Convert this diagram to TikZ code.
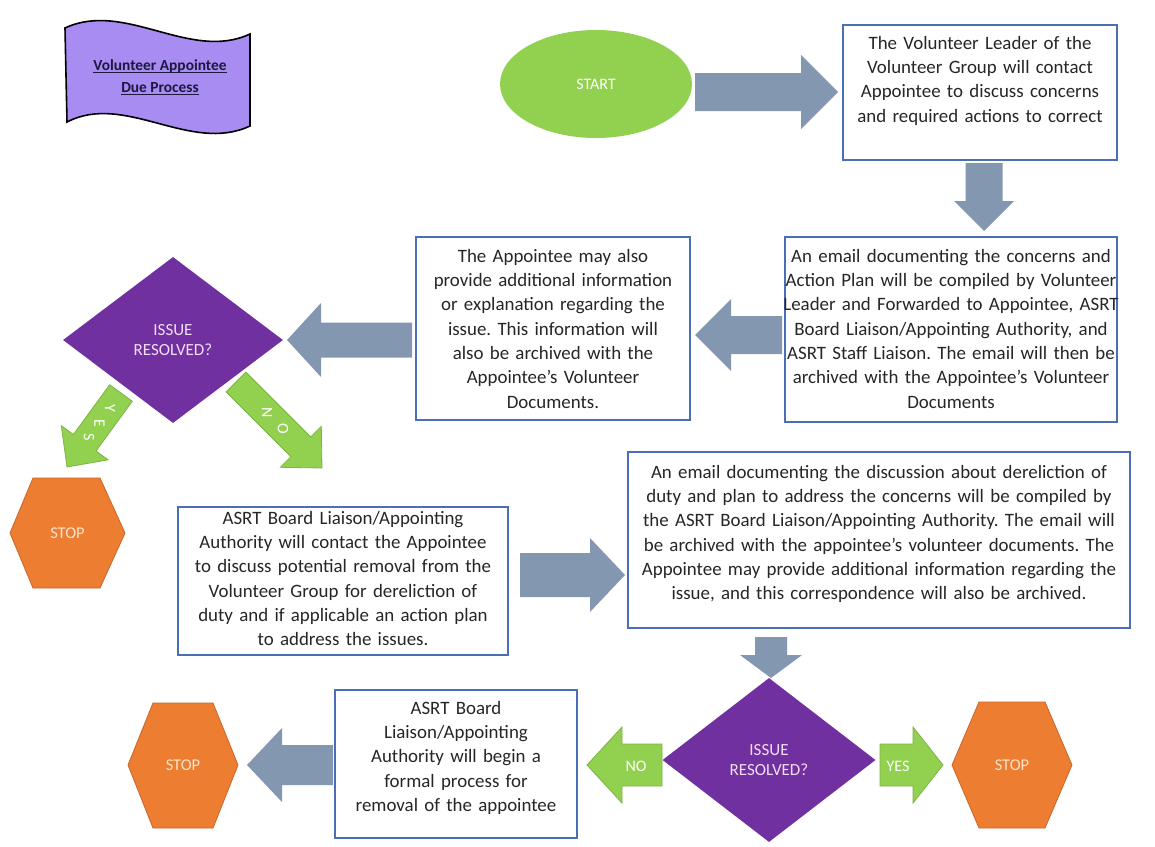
\documentclass[tikz,border=0pt]{standalone}
\usepackage{fontspec}
\setmainfont{Carlito}
\usetikzlibrary{shapes.geometric}
\definecolor{boxblue}{HTML}{4A6FB5}
\definecolor{arrblue}{HTML}{8497B0}
\definecolor{lgreen}{HTML}{92D050}
\definecolor{gborder}{HTML}{7DB446}
\definecolor{dpurple}{HTML}{7030A0}
\definecolor{orng}{HTML}{ED7D31}
\definecolor{orngb}{HTML}{C9652A}
\definecolor{lav}{HTML}{A88CF2}
\definecolor{pinkt}{HTML}{F2DDF4}
\definecolor{txtgray}{HTML}{262626}
\definecolor{stopt}{HTML}{FCE4CC}
\definecolor{navy}{HTML}{1C1840}
\frenchspacing
\newcommand\myul[1]{\setbox0\hbox{#1}\rlap{\rule[-2.4pt]{\wd0}{1.1pt}}\box0}
\newcommand\blockarrow[6]{%
  \pgfpointdiff{\pgfpointanchor{#1}{center}}{\pgfpointanchor{#2}{center}}%
  \pgfgetlastxy{\bdx}{\bdy}%
  \pgfmathsetmacro\bang{atan2(\bdy,\bdx)}%
  \pgfmathsetmacro\blen{veclen(\bdx,\bdy)}%
  \pgfmathsetmacro\bbase{\blen-#5}%
  \begin{scope}[shift={(#1)},rotate=\bang]
    \path[#6] (0,#3) -- (\bbase,#3) -- (\bbase,#4) -- (\blen,0) -- (\bbase,-#4) -- (\bbase,-#3) -- (0,-#3) -- cycle;
  \end{scope}}
\begin{document}
\begin{tikzpicture}[x=1pt,y=-1pt,
  boxst/.style={draw=boxblue, line width=2.6pt, fill=white, rectangle, inner sep=0pt},
  txt/.style={font=\fontsize{18.9}{24.3}\selectfont, text=txtgray, align=center, inner sep=0pt, anchor=north},
  arrst/.style={fill=arrblue, draw=none},
  garrst/.style={fill=lgreen, draw=gborder, line width=0.8pt},
  hexst/.style={fill=orng, draw=orngb, line width=0.8pt},
  stoptxt/.style={font=\fontsize{16.5}{18}\selectfont, text=stopt, inner sep=0pt},
  dia/.style={diamond, fill=dpurple, inner sep=0pt, font=\fontsize{17}{20}\selectfont, text=pinkt, align=center},
  gtxt/.style={font=\fontsize{16}{18}\selectfont, text=white, inner sep=0pt}
]
\useasboundingbox (0,0) rectangle (1155,846);
\fill[white] (0,0) rectangle (1155,846);

% banner
\filldraw[fill=lav, draw=black, line width=1.6pt]
  (65,28) .. controls (125,0) and (190,62) .. (250,34) -- (250,126)
  .. controls (190,154) and (125,92) .. (67,122) -- cycle;
\node[font=\bfseries\fontsize{15.4}{22}\selectfont, text=navy, align=center, inner sep=0pt] (title) at (160,77)
  {\myul{Volunteer Appointee}\\\myul{Due Process}};

% start
\node[ellipse, fill=lgreen, minimum width=192pt, minimum height=108pt, inner sep=0pt,
  font=\fontsize{16}{18}\selectfont, text=white] (start) at (596,84) {START};

% boxes
\node[boxst, minimum width=274pt, minimum height=135pt] (b1) at (980,92.5) {};
\node[txt, text width=320pt] (b1t) at (980,36) {The Volunteer Leader of the\\Volunteer Group will contact\\Appointee to discuss concerns\\and required actions to correct};

\node[boxst, minimum width=332pt, minimum height=185pt] (b2) at (951,329.5) {};
\node[txt, text width=380pt] (b2t) at (951,249) {An email documenting the concerns and\\Action Plan will be compiled by Volunteer\\Leader and Forwarded to Appointee, ASRT\\Board Liaison/Appointing Authority, and\\ASRT Staff Liaison. The email will then be\\archived with the Appointee’s Volunteer\\Documents};

\node[boxst, minimum width=274pt, minimum height=183pt] (b3) at (553,328.5) {};
\node[txt, text width=320pt] (b3t) at (553,249) {The Appointee may also\\provide additional information\\or explanation regarding the\\issue. This information will\\also be archived with the\\Appointee’s Volunteer\\Documents.};

\node[boxst, minimum width=330pt, minimum height=148pt] (b5) at (343,581) {};
\node[txt, text width=380pt] (b5t) at (343,511) {ASRT Board Liaison/Appointing\\Authority will contact the Appointee\\to discuss potential removal from the\\Volunteer Group for dereliction of\\duty and if applicable an action plan\\to address the issues.};

\node[boxst, minimum width=502pt, minimum height=176pt] (b6) at (879,540) {};
\node[txt, text width=560pt] (b6t) at (879,465) {An email documenting the discussion about dereliction of\\duty and plan to address the concerns will be compiled by\\the ASRT Board Liaison/Appointing Authority. The email will\\be archived with the appointee’s volunteer documents. The\\Appointee may provide additional information regarding the\\issue, and this correspondence will also be archived.};

\node[boxst, minimum width=242pt, minimum height=148pt] (b7) at (456,764) {};
\node[txt, text width=290pt] (b7t) at (456,701) {ASRT Board\\Liaison/Appointing\\Authority will begin a\\formal process for\\removal of the appointee};

% diamonds
\node[dia, minimum width=220pt, minimum height=166pt] (d1) at (173,340) {ISSUE\\RESOLVED?};
\node[dia, minimum width=213pt, minimum height=164pt] (d2) at (769,760) {ISSUE\\RESOLVED?};

% hexagons
\path[hexst] (10,533) -- (33,478) -- (100,478) -- (125,533) -- (100,588) -- (33,588) -- cycle;
\node[stoptxt] (stop1) at (67.5,533) {STOP};
\path[hexst] (952,765) -- (979,702) -- (1045,702) -- (1072,765) -- (1045,828) -- (979,828) -- cycle;
\node[stoptxt] (stop2) at (1012,765) {STOP};
\path[hexst] (128,765) -- (153,703) -- (213,703) -- (238,765) -- (213,828) -- (153,828) -- cycle;
\node[stoptxt] (stop3) at (183,765) {STOP};

% block arrows
\coordinate (a1s) at (695,92);  \coordinate (a1e) at (838,92);
\blockarrow{a1s}{a1e}{19}{37}{37}{arrst}
\coordinate (a2s) at (984,163); \coordinate (a2e) at (984,231);
\blockarrow{a2s}{a2e}{18.5}{30}{30}{arrst}
\coordinate (a3s) at (782,335); \coordinate (a3e) at (695,335);
\blockarrow{a3s}{a3e}{19}{36}{36}{arrst}
\coordinate (a4s) at (412,340); \coordinate (a4e) at (287,340);
\blockarrow{a4s}{a4e}{17.5}{37}{34}{arrst}
\coordinate (a5s) at (520,575); \coordinate (a5e) at (625,575);
\blockarrow{a5s}{a5e}{22}{37}{35}{arrst}
\coordinate (a6s) at (771,637); \coordinate (a6e) at (771,678);
\blockarrow{a6s}{a6e}{16}{31}{23}{arrst}
\coordinate (a7s) at (333,765); \coordinate (a7e) at (247,765);
\blockarrow{a7s}{a7e}{20}{37}{35}{arrst}

% green decision arrows
\coordinate (y1s) at (121,393); \coordinate (y1e) at (67,467);
\blockarrow{y1s}{y1e}{14}{29}{30}{garrst}
\node[gtxt, rotate=-90] (y1a) at (110,408) {Y};
\node[gtxt, rotate=-90] (y1b) at (99.5,423) {E};
\node[gtxt, rotate=-90] (y1c) at (89,437) {S};

\coordinate (n1s) at (236,382); \coordinate (n1e) at (322,468);
\blockarrow{n1s}{n1e}{14}{29}{30}{garrst}
\node[gtxt, rotate=-90] (n1a) at (267,413) {N};
\node[gtxt, rotate=-90] (n1b) at (283,429) {O};

\coordinate (n2s) at (662,765); \coordinate (n2e) at (587,765);
\blockarrow{n2s}{n2e}{21}{38}{35}{garrst}
\node[gtxt] (n2t) at (636,766) {NO};

\coordinate (y2s) at (880,765); \coordinate (y2e) at (943,765);
\blockarrow{y2s}{y2e}{21}{38}{30}{garrst}
\node[gtxt] (y2t) at (898,766) {YES};
\end{tikzpicture}
\end{document}
